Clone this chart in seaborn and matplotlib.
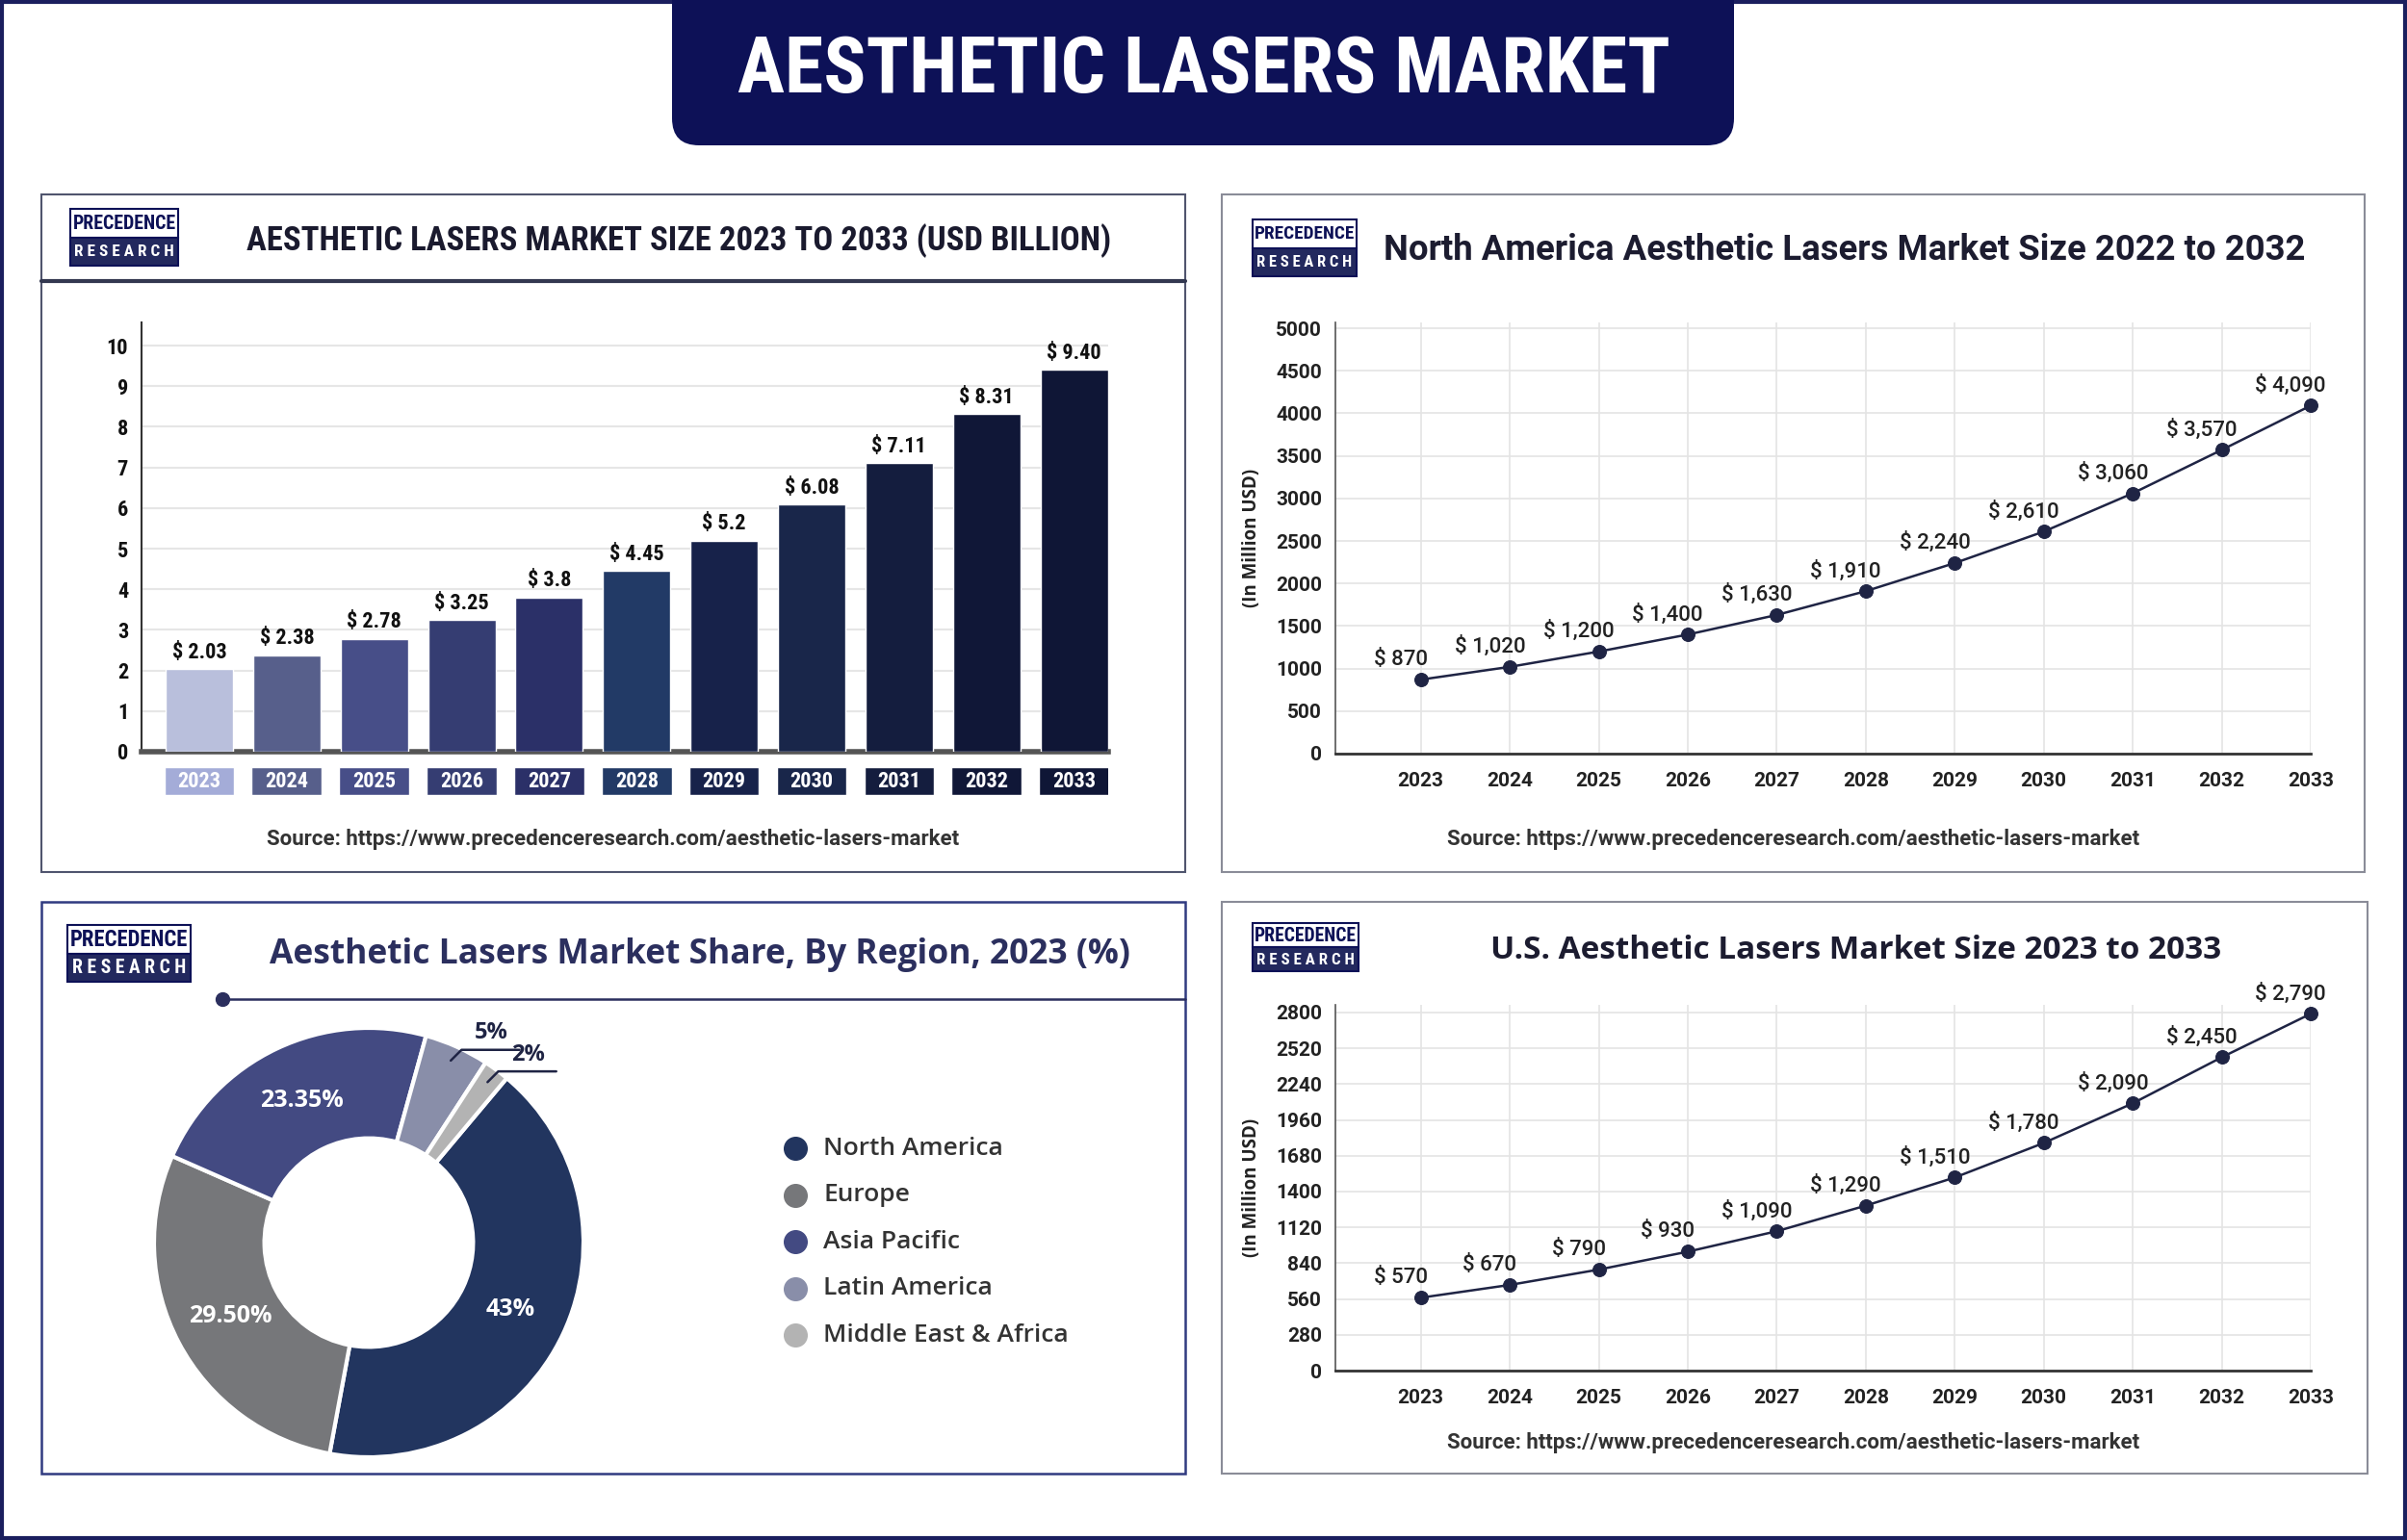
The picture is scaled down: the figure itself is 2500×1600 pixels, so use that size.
import matplotlib
matplotlib.use("Agg")
import numpy as np
import pandas as pd
import matplotlib.pyplot as plt
import seaborn as sns
from matplotlib.patches import Rectangle, FancyBboxPatch

W, H = 2500, 1600

# data
years = [2023, 2024, 2025, 2026, 2027, 2028, 2029, 2030, 2031, 2032, 2033]
global_size = [2.03, 2.38, 2.78, 3.25, 3.8, 4.45, 5.2, 6.08, 7.11, 8.31, 9.40]
global_labels = ["$ 2.03", "$ 2.38", "$ 2.78", "$ 3.25", "$ 3.8", "$ 4.45",
                 "$ 5.2", "$ 6.08", "$ 7.11", "$ 8.31", "$ 9.40"]
na_size = [870, 1020, 1200, 1400, 1630, 1910, 2240, 2610, 3060, 3570, 4090]
us_size = [570, 670, 790, 930, 1090, 1290, 1510, 1780, 2090, 2450, 2790]
regions = ["North America", "Europe", "Asia Pacific", "Latin America", "Middle East & Africa"]
region_share = [43, 29.5, 23.35, 5, 2]
region_labels = ["43%", "29.50%", "23.35%", "5%", "2%"]

bar_colors = ["#b9bfdc", "#575f8b", "#474e88", "#353d72", "#2b3068", "#223a66",
              "#17224a", "#19264a", "#141d3e", "#101737", "#0f1636"]
box_colors = ["#a4acd8"] + bar_colors[1:]
pie_colors = ["#22355f", "#76777a", "#434a82", "#898ea9", "#b3b3b3"]
NAVY = "#0d1157"

COND = ["Roboto Condensed", "Noto Sans", "DejaVu Sans"]
SANS = ["Open Sans", "DejaVu Sans"]
ROBOTO = ["Roboto", "DejaVu Sans"]

sns.set_theme(style="white")
plt.rcParams["font.family"] = SANS


def box(x0, y0, x1, y1):
    return [x0 / W, 1 - y1 / H, (x1 - x0) / W, (y1 - y0) / H]


def ctext(ax, x, y, s, **kw):
    # condensed bold text
    return ax.text(x, y, s, family=COND, fontstretch="condensed", weight="bold", **kw)


fig = plt.figure(figsize=(25, 16), dpi=100)
fig.patch.set_facecolor("white")

# overlay in pixel coords for frames, titles, logos
ov = fig.add_axes([0, 0, 1, 1], zorder=10)
ov.set_xlim(0, W)
ov.set_ylim(H, 0)
ov.axis("off")
ov.patch.set_alpha(0)

ov.add_patch(Rectangle((2, 2), W - 4, H - 4, fill=False, ec="#1b1f5e", lw=3))
ov.add_patch(FancyBboxPatch((698, -40), 1103, 191,
                            boxstyle="round,pad=0,rounding_size=28", fc=NAVY, ec="none"))
ctext(ov, 1250, 74, "AESTHETIC LASERS MARKET", color="white", fontsize=59,
      ha="center", va="center")

# panel frames
ov.add_patch(Rectangle((43, 202), 1188, 704, fill=False, ec="#50556e", lw=1.5))
ov.plot([43, 1231], [292, 292], color="#333850", lw=3)
ov.add_patch(Rectangle((1269, 202), 1187, 704, fill=False, ec="#8a8c98", lw=1.5))
ov.add_patch(Rectangle((43, 937), 1188, 594, fill=False, ec="#303a80", lw=1.8))
ov.add_patch(Rectangle((1269, 937), 1190, 594, fill=False, ec="#8a8c98", lw=1.5))


def logo(x0, y0, w, h):
    ov.add_patch(Rectangle((x0, y0), w, h / 2, fc="white", ec=NAVY, lw=1.5))
    ov.add_patch(Rectangle((x0, y0 + h / 2), w, h / 2, fc="#23295e", ec=NAVY, lw=1.5))
    fs = w / 7.8
    ctext(ov, x0 + w / 2, y0 + h * 0.26, "PRECEDENCE", color=NAVY, fontsize=fs,
          ha="center", va="center")
    ctext(ov, x0 + w / 2, y0 + h * 0.76, "R E S E A R C H", color="white",
          fontsize=fs * 0.86, ha="center", va="center")


logo(73, 217, 112, 59)
logo(1301, 228, 108, 59)
logo(70, 961, 128, 59)
logo(1301, 959, 110, 50)

# titles
ctext(ov, 705, 250, "AESTHETIC LASERS MARKET SIZE 2023 TO 2033 (USD BILLION)",
      fontsize=25, color="#1a1a2e", ha="center", va="center")
ov.text(1437, 260, "North America Aesthetic Lasers Market Size 2022 to 2032", family=ROBOTO,
        weight="bold", fontsize=26.3, color="#1c1c30", ha="left", va="center")
ov.text(727, 992, "Aesthetic Lasers Market Share, By Region, 2023 (%)", family=SANS,
        weight="bold", fontsize=25.5, color="#2b2f5e", ha="center", va="center")
ov.text(1928, 987, "U.S. Aesthetic Lasers Market Size 2023 to 2033", family=SANS,
        weight="bold", fontsize=24, color="#1c1c30", ha="center", va="center")

src = "Source: https://www.precedenceresearch.com/aesthetic-lasers-market"
for sx, sy in [(637, 872), (1863, 872), (1863, 1499)]:
    ov.text(sx, sy, src, family=ROBOTO, weight="bold", fontsize=16, color="#333333",
            ha="center", va="center")

# ---------- bar chart ----------
df_bar = pd.DataFrame({"year": [str(y) for y in years], "size": global_size})
axb = fig.add_axes(box(147, 335, 1151, 781))
sns.barplot(data=df_bar, x="year", y="size", hue="year", palette=bar_colors,
            width=0.77, saturation=1, legend=False, ax=axb, zorder=3)
axb.set_xlim(-0.66, 10.39)
axb.set_ylim(0, 10.57)
axb.set_yticks(range(0, 11))
axb.set_xticks([])
axb.set_xlabel("")
axb.set_ylabel("")
axb.yaxis.grid(True, color="#e6e6e6", lw=1.5)
axb.set_axisbelow(True)
for s in ["top", "right"]:
    axb.spines[s].set_visible(False)
axb.spines["left"].set_color("#333333")
axb.spines["left"].set_linewidth(1.5)
axb.spines["bottom"].set_color("#555555")
axb.spines["bottom"].set_linewidth(4)
axb.tick_params(axis="y", length=0, pad=10)
for t in axb.get_yticklabels():
    t.set_family(COND)
    t.set_stretch("condensed")
    t.set_weight("bold")
    t.set_fontsize(16)
    t.set_color("#111111")
for p, lab in zip(axb.patches, global_labels):
    ctext(axb, p.get_x() + p.get_width() / 2, p.get_height() + 0.15, lab,
          fontsize=16, color="#111111", ha="center", va="bottom")

axy = fig.add_axes(box(147, 797, 1151, 826))
sns.barplot(data=df_bar.assign(one=1), x="year", y="one", hue="year", palette=box_colors,
            width=0.8, saturation=1, legend=False, ax=axy)
axy.set_xlim(-0.66, 10.39)
axy.set_ylim(0, 1)
axy.axis("off")
for i, y in enumerate(years):
    ctext(axy, i, 0.5, str(y), fontsize=16, color="white", ha="center", va="center")


# ---------- line charts ----------
def line_chart(ax, vals, ymax_tick, step, ytop):
    sns.lineplot(x=years, y=vals, marker="o", markersize=10, color="#1f2444",
                 markeredgecolor="#1f2444", lw=1.8, ax=ax, zorder=3, clip_on=False)
    ax.set_xlim(2022.04, 2033)
    ax.set_ylim(0, ytop)
    ax.set_xticks(years)
    ax.set_yticks(np.arange(0, ymax_tick + 1, step))
    ax.grid(True, color="#e4e4e4", lw=1.2)
    ax.set_axisbelow(True)
    for s in ["top", "right"]:
        ax.spines[s].set_visible(False)
    ax.spines["left"].set_color("#555555")
    ax.spines["left"].set_linewidth(1.2)
    ax.spines["bottom"].set_color("#333333")
    ax.spines["bottom"].set_linewidth(2)
    ax.tick_params(axis="x", length=0, pad=14)
    ax.tick_params(axis="y", length=0, pad=10)
    for t in ax.get_xticklabels() + ax.get_yticklabels():
        t.set_family(ROBOTO)
        t.set_weight("bold")
        t.set_fontsize(15)
        t.set_color("#222222")
    for x, v in zip(years, vals):
        ax.annotate(f"$ {v:,}", (x, v), xytext=(-15, 15), textcoords="offset points",
                    ha="center", va="center", family=ROBOTO, weight="medium",
                    fontsize=16, color="#222222")


axn = fig.add_axes(box(1387, 335, 2400, 783))
line_chart(axn, na_size, 5000, 500, 5068)
axu = fig.add_axes(box(1387, 1044, 2400, 1424))
line_chart(axu, us_size, 2800, 280, 2860)
for yy in [559, 1234]:
    ov.text(1300, yy, "(In Million USD)", rotation=90, family=SANS, weight="bold",
            fontsize=13.5, color="#222222", ha="center", va="center")

# ---------- donut ----------
ov.plot([231, 1231], [1038, 1038], color="#2b2f5e", lw=1.8)
ov.plot([231], [1038], "o", ms=10, color="#2b2f5e")

axp = fig.add_axes(box(133, 1041, 633, 1541))
wedges, _ = axp.pie(region_share, colors=pie_colors, startangle=50, counterclock=False,
                    wedgeprops=dict(width=0.514, edgecolor="white", linewidth=3))
axp.set_xlim(-1.121, 1.121)
axp.set_ylim(-1.121, 1.121)
for i, (w, lab) in enumerate(zip(wedges, region_labels)):
    mid = np.deg2rad((w.theta1 + w.theta2) / 2)
    if i < 3:
        axp.text(0.73 * np.cos(mid), 0.73 * np.sin(mid), lab, color="white", family=SANS,
                 weight="bold", fontsize=18, ha="center", va="center")
    else:
        sx, sy = 0.93 * np.cos(mid), 0.93 * np.sin(mid)
        kx, ky = sx + 0.05, sy + 0.05
        axp.plot([sx, kx, kx + 0.27], [sy, ky, ky], color="#1f2444", lw=1.8, clip_on=False)
        axp.text(kx + 0.14, ky + 0.025, lab, color="#1f2444", family=SANS, weight="bold",
                 fontsize=17, ha="center", va="bottom")

for i, (name, col) in enumerate(zip(regions, pie_colors)):
    yy = 1193 + i * 48.6
    ov.plot([826], [yy], "o", ms=17, color=col)
    ov.text(855, yy, name, family=SANS, weight="semibold", fontsize=19, color="#333333",
            ha="left", va="center")

fig.savefig("out.png", dpi=100, facecolor="white")
